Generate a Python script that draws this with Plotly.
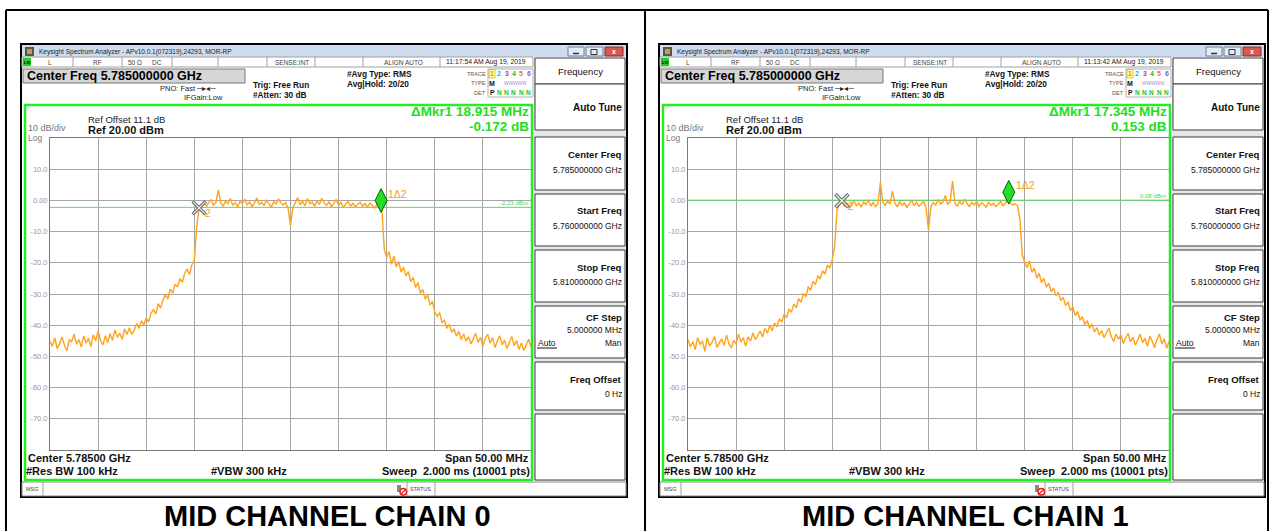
import numpy as np
import plotly.graph_objects as go

W, H = 1271, 531

# ---------------- data ----------------
start_ghz = [5.760, 5.760]
stop_ghz = [5.810, 5.810]
ref_level_dbm = 20
bottom_level_dbm = -80
y_tick_vals = [10, 0, -10, -20, -30, -40, -50, -60, -70]
y_tick_text = ["10.0", "0.00", "-10.0", "-20.0", "-30.0", "-40.0", "-50.0", "-60.0", "-70.0"]

# chain 0 trace (dBm), 0.25 MHz steps
chain0_floor = [-45.2, -46.8, -44.1, -47.5, -45.9, -43.8, -46.4, -48.2, -44.7, -45.3,
                -42.9, -46.1, -44.6, -47.0, -43.5, -45.8, -44.2, -46.9, -43.1, -45.0,
                -41.8, -44.9, -46.3, -43.4, -45.6, -42.7, -44.8, -41.5, -43.9]
chain0_rise = [-42.6, -44.5, -41.2, -43.0, -40.8, -42.9, -41.7, -39.5, -41.0, -38.6, -39.9,
               -37.8, -38.9, -36.2, -35.0, -36.4, -33.1, -34.5, -31.8, -30.2, -31.6,
               -28.4, -29.7, -26.9, -27.8, -25.1, -26.3, -23.4, -22.0, -23.8, -20.6,
               -19.2, -8.5]
chain0_top = [-2.4,
              -1.2, -0.4, -1.8, -0.9, 0.3, -1.5, -0.6, 3.4, -0.8, -1.9,
              -0.2, -1.1, 0.6, -1.6, -0.7, -2.1, -0.3, -1.0, 0.4, -1.4,
              -0.5, -2.0, -0.9, 0.8, -1.3, -0.6, -1.7, 0.2, -1.0, -2.2,
              -0.4, -1.2, 0.5, -0.8, -1.5, -0.7, -2.6, -8.1, -2.3, -0.9,
              0.9, -1.4, -0.3, -1.8, 0.6, -1.1, -0.5, -1.9, -0.2, -1.3,
              0.7, -0.8, -1.6, -0.4, -2.0, -1.0, 0.3, -1.5, -0.7, -2.3,
              -1.1, -0.4, -1.8, -0.9, -2.1, -1.2, -0.6, -1.9, -1.0, -2.2,
              -0.8, -1.6, -2.4, -1.3, -2.0,
              -2.6]
chain0_fall = [-15.8, -18.2, -16.4, -20.5, -17.9, -21.3, -19.6, -23.0, -21.4, -24.2,
               -22.8, -26.1, -24.7, -27.9, -26.3, -29.8, -28.5, -31.7, -30.2, -33.6,
               -32.4, -35.8, -37.2, -36.0, -39.1, -38.4, -41.0, -39.7, -42.3, -41.2,
               -43.5, -42.0, -44.6, -42.8, -45.1, -43.7, -46.0, -44.2, -42.6, -45.5,
               -43.9, -46.7, -44.3, -42.9, -45.8, -44.0, -47.2, -45.1, -43.4, -46.3,
               -44.8, -47.5, -45.4, -43.6, -46.6, -44.9, -47.8, -45.7, -48.1, -46.2,
               -44.5, -47.0]

# chain 1 trace (dBm)
chain1_floor = [-44.6, -46.9, -45.3, -47.8, -43.9, -46.2, -45.0, -48.4, -44.1, -46.7,
                -45.5, -43.6, -47.1, -45.8, -44.4, -46.5, -43.2, -45.9, -47.3, -44.8,
                -46.0, -42.9, -45.4, -44.0, -46.8, -43.7, -45.1, -42.5, -44.6, -43.3,
                -41.9, -43.8]
chain1_rise = [-41.0, -42.6, -40.1, -41.8, -39.3, -40.5, -37.9, -39.0, -36.4, -37.6,
               -34.8, -35.9, -33.2, -34.4, -31.5, -32.7, -29.8, -30.9, -27.6, -28.8,
               -25.9, -27.0, -24.1, -25.2, -22.5, -23.6, -20.8, -21.7, -18.9, -14.5,
               -3.0, -1.4]
chain1_top = [-0.1,
              -1.9, -0.8, -2.4, -1.1, -0.3, -1.7, -0.9, -2.2, -0.5, -1.4,
              0.2, -1.8, -0.7, -2.0, -1.0, 5.8, -0.6, -1.6, -0.2, -1.3,
              3.0, -0.9, -2.1, -0.4, -1.5, -0.8, -2.3, -1.0, 0.1, -1.7,
              -0.6, -1.9, -1.2, -0.3, -2.5, -9.4, -2.0, -0.7, -1.5, 0.3,
              -1.1, -0.5, 1.6, -1.3, -0.4, 6.2, -0.9, -1.8, -0.2, -1.4,
              0.4, -1.0, -2.1, -0.6, -1.5, -0.3, -1.9, -0.8, -1.3, -2.2,
              -0.5, -1.6, -0.9, -2.0, -1.1, -0.4, -1.7, -0.7, 0.05,
              -0.8, -1.5, -1.1, -1.8, -6.0]
chain1_fall = [-17.5, -19.8, -21.6, -19.4, -23.1, -21.7, -24.9, -23.3, -26.4, -25.0,
               -27.8, -26.5, -29.3, -28.1, -30.6, -29.4, -32.2, -31.0, -33.7, -32.5,
               -35.3, -34.1, -36.9, -35.6, -38.2, -37.4, -39.8, -38.5, -41.0, -39.6,
               -42.2, -40.8, -43.1, -41.7, -44.0, -42.4, -40.9, -43.6, -45.2, -42.8,
               -44.5, -43.1, -45.9, -44.0, -42.6, -45.3, -43.8, -46.4, -44.7, -42.9,
               -45.6, -44.2, -46.8, -43.5, -45.1, -47.2, -44.6, -42.8, -46.0, -44.3,
               -47.4, -45.2]

chain0_db = chain0_floor + chain0_rise + chain0_top + chain0_fall
chain1_db = chain1_floor + chain1_rise + chain1_top + chain1_fall

marker2_ghz = [5.7755, 5.7760]
delta_mhz = [18.915, 17.345]
delta_db = [-0.172, 0.153]
display_line_dbm = [-2.23, 0.08]
timestamps = ["11:17:54 AM Aug 19, 2019", "11:13:42 AM Aug 19, 2019"]
captions = ["MID CHANNEL CHAIN 0", "MID CHANNEL CHAIN 1"]
center_freq_text = "5.785000000 GHz"
start_freq_text = "5.760000000 GHz"
stop_freq_text = "5.810000000 GHz"

# ---------------- layout helpers ----------------
FONT = "Liberation Sans, Arial, sans-serif"
shapes, annots = [], []


def X(px):
    return px / W


def Y(py):
    return 1 - py / H


def rect(x0, y0, x1, y1, fill=None, line=None, lw=1, layer="below"):
    shapes.append(dict(type="rect", xref="paper", yref="paper",
                       x0=X(x0), x1=X(x1), y0=Y(y1), y1=Y(y0),
                       fillcolor=fill if fill else "rgba(0,0,0,0)",
                       line=dict(color=line if line else "rgba(0,0,0,0)", width=lw if line else 0),
                       layer=layer))


def seg(x0, y0, x1, y1, color, lw=1, layer="below"):
    shapes.append(dict(type="line", xref="paper", yref="paper",
                       x0=X(x0), x1=X(x1), y0=Y(y0), y1=Y(y1),
                       line=dict(color=color, width=lw), layer=layer))


def text(x, y, s, size, color="#111", bold=False, anchor="left", family=FONT):
    annots.append(dict(xref="paper", yref="paper", x=X(x), y=Y(y),
                       text=f"<b>{s}</b>" if bold else s, showarrow=False,
                       xanchor=anchor, yanchor="middle", borderpad=0,
                       font=dict(size=size, color=color, family=family)))


GL, GR, GT, GB = 50, 531, 138, 450   # grid pixel box of the left window
OFFS = [0, 638]

# outer table lines
seg(6, 10, 1268, 10, "#000", 2)
seg(6, 10, 6, 531, "#000", 2)
seg(645, 10, 645, 531, "#000", 2)
seg(1268, 10, 1268, 531, "#000", 2)


def window(k):
    ox = OFFS[k]
    rect(ox + 20, 43, ox + 628, 498, fill="#000000")
    rect(ox + 22, 45, ox + 626, 496, fill="#ffffff")
    # title bar
    rect(ox + 22, 45, ox + 626, 57, fill="#cddcee")
    rect(ox + 25, 47, ox + 34, 56, fill="#5a5440")
    rect(ox + 27, 49, ox + 32, 54, fill="#b8a060")
    text(ox + 38, 51.5, "Keysight Spectrum Analyzer - APv10.0.1(072319),24293, MOR-RP", 6.5, "#222")
    rect(ox + 568, 47, ox + 584, 56, fill="#e3ebf5", line="#6d7f99")
    rect(ox + 586, 47, ox + 603, 56, fill="#e3ebf5", line="#6d7f99")
    rect(ox + 605, 47, ox + 623, 56, fill="#d8584c", line="#8a2a22")
    seg(ox + 573, 53.5, ox + 579, 53.5, "#333", 1.5)
    rect(ox + 591, 49.5, ox + 597, 54.5, line="#333", lw=1)
    text(ox + 614, 51.5, "x", 7, "#ffffff", bold=True, anchor="center")
    # status row
    rect(ox + 22, 57, ox + 533, 67, fill="#ffffff", line="#a0a0a0")
    for sx in [73, 122, 172, 218, 267, 315, 363, 440]:
        seg(ox + sx, 57, ox + sx, 67, "#a0a0a0")
    rect(ox + 23, 58, ox + 31, 66, fill="#22cc22")
    text(ox + 27, 62, "LXI", 4, "#000", bold=True, anchor="center")
    text(ox + 50, 62, "L", 6.5, "#444", anchor="center")
    text(ox + 97, 62, "RF", 6.5, "#444", anchor="center")
    text(ox + 135, 62, "50 Ω", 6.5, "#444", anchor="center")
    text(ox + 157, 62, "DC", 6.5, "#444", anchor="center")
    text(ox + 292, 62, "SENSE:INT", 6.5, "#444", anchor="center")
    text(ox + 403, 62, "ALIGN AUTO", 6.5, "#444", anchor="center")
    text(ox + 486, 62, timestamps[k], 6.8, "#222", anchor="center")
    # center freq box
    rect(ox + 23, 69, ox + 245, 83, fill="#d6d6d6", line="#7a7a7a")
    text(ox + 26, 76, "Center Freq " + center_freq_text, 12.5, "#000", bold=True)
    text(ox + 217, 89, "PNO: Fast ─▸◂─", 7.5, "#222", anchor="right")
    text(ox + 183, 97.5, "IFGain:Low", 7.5, "#222")
    text(ox + 252, 85, "Trig: Free Run", 8.3, "#111", bold=True)
    text(ox + 252, 95, "#Atten: 30 dB", 8.3, "#111", bold=True)
    text(ox + 346, 74, "#Avg Type: RMS", 8.3, "#111", bold=True)
    text(ox + 346, 84, "Avg|Hold: 20/20", 8.3, "#111", bold=True)
    # trace info box
    text(ox + 487, 73.5, "TRACE", 5.5, "#555", anchor="right")
    text(ox + 487, 83.5, "TYPE", 5.5, "#555", anchor="right")
    text(ox + 487, 92.5, "DET", 5.5, "#555", anchor="right")
    rect(ox + 488, 69, ox + 533, 97, fill="#ffffff", line="#b0b0b0")
    rect(ox + 489, 69.5, ox + 495, 78, fill="#ffff99", line="#c8a000", lw=0.6)
    tr_cols = ["#f09000", "#00c0e0", "#e020e0", "#20c020", "#f07040", "#7060ff"]
    for j, c in enumerate(tr_cols):
        text(ox + 492 + j * 7.3, 73.7, str(j + 1), 7, c, bold=True, anchor="center")
    text(ox + 492, 83.5, "M", 7, "#111", bold=True, anchor="center")
    text(ox + 515, 83.5, "WWWWW", 4.8, "#a090d8", anchor="center")
    text(ox + 492, 92.5, "P", 7, "#111", bold=True, anchor="center")
    for j in range(5):
        text(ox + 499.3 + j * 7.3, 92.5, "N", 6.5, "#22c022", bold=True, anchor="center")
    # upper display texts
    text(ox + 87, 119, "Ref Offset 11.1 dB", 9.5, "#222")
    text(ox + 87, 129.5, "Ref 20.00 dBm", 11, "#111", bold=True)
    text(ox + 27, 128.5, "10 dB/div", 9, "#777")
    text(ox + 27, 138.5, "Log", 8.5, "#777")
    text(ox + 530, 112, f"ΔMkr1 {delta_mhz[k]:.3f} MHz", 13.5, "#22dd22", bold=True, anchor="right")
    text(ox + 530, 126.5, f"{delta_db[k]:.3f} dB", 13.5, "#22dd22", bold=True, anchor="right")
    # bottom display texts
    text(ox + 27, 458, "Center 5.78500 GHz", 11, "#111", bold=True)
    text(ox + 530, 458, "Span 50.00 MHz", 11, "#111", bold=True, anchor="right")
    text(ox + 25, 471, "#Res BW 100 kHz", 11, "#111", bold=True)
    text(ox + 249, 471, "#VBW 300 kHz", 11, "#111", bold=True, anchor="center")
    text(ox + 531, 471, "Sweep  2.000 ms (10001 pts)", 11, "#111", bold=True, anchor="right")
    # green frame
    rect(ox + 25, 105, ox + 532, 480, line="#22ee22", lw=2.5, layer="above")
    # soft key panel
    rect(ox + 534, 58, ox + 626, 481, fill="#e6e6e6")
    boxes = [(58, 84), (84, 130), (137, 190), (194, 246), (250, 302), (306, 358), (362, 410), (414, 480)]
    for (b0, b1) in boxes:
        rect(ox + 535, b0, ox + 625, b1, fill="#ffffff", line="#3a3a3a", lw=1)
    R = ox + 623
    text(ox + 580, 71, "Frequency", 9.5, "#111", anchor="center")
    text(R, 107, "Auto Tune", 10, "#111", bold=True, anchor="right")
    text(R, 155, "Center Freq", 9.5, "#111", bold=True, anchor="right")
    text(R, 170, center_freq_text, 8.5, "#111", anchor="right")
    text(R, 211, "Start Freq", 9.5, "#111", bold=True, anchor="right")
    text(R, 226, start_freq_text, 8.5, "#111", anchor="right")
    text(R, 267, "Stop Freq", 9.5, "#111", bold=True, anchor="right")
    text(R, 282, stop_freq_text, 8.5, "#111", anchor="right")
    text(R, 317.5, "CF Step", 9.5, "#111", bold=True, anchor="right")
    text(R, 330, "5.000000 MHz", 8.5, "#111", anchor="right")
    text(ox + 537, 343, "Auto", 8.5, "#111")
    seg(ox + 537, 348, ox + 557, 348, "#111", 1)
    text(R, 343, "Man", 8.5, "#111", anchor="right")
    text(R, 379, "Freq Offset", 9.5, "#111", bold=True, anchor="right")
    text(R, 394, "0 Hz", 8.5, "#111", anchor="right")
    # status bar
    rect(ox + 22, 482, ox + 626, 496, fill="#ffffff", line="#8a8a8a")
    seg(ox + 43, 482, ox + 43, 496, "#a0a0a0")
    seg(ox + 407, 482, ox + 407, 496, "#a0a0a0")
    seg(ox + 435, 482, ox + 435, 496, "#a0a0a0")
    text(ox + 25, 489, "MSG", 5.5, "#444")
    rect(ox + 397, 485, ox + 401, 492, fill="#8a8a8a")
    shapes.append(dict(type="circle", xref="paper", yref="paper",
                       x0=X(ox + 400), x1=X(ox + 406.5), y0=Y(495), y1=Y(488.5),
                       fillcolor="#ffffff", line=dict(color="#e02020", width=1.5), layer="below"))
    seg(ox + 401, 494, ox + 405.5, 489.5, "#e02020", 1.2)
    text(ox + 409, 489, "STATUS", 5.5, "#444")
    # caption
    cx = 327 if k == 0 else 965
    text(cx, 516, captions[k], 29, "#000", bold=True, anchor="center")


for k in range(2):
    window(k)

# ---------------- traces ----------------
fig = go.Figure()
db_per_px = (ref_level_dbm - bottom_level_dbm) / (GB - GT)
traces = [chain0_db, chain1_db]
for k in range(2):
    xa = "x" if k == 0 else "x2"
    ya = "y" if k == 0 else "y2"
    vals = np.array(traces[k], dtype=float)
    freq = np.linspace(start_ghz[k], stop_ghz[k], len(vals))
    # display line
    shapes.append(dict(type="line", xref=xa, yref=ya, x0=start_ghz[k], x1=stop_ghz[k],
                       y0=display_line_dbm[k], y1=display_line_dbm[k],
                       line=dict(color="#55e055", width=1), layer="between"))
    annots.append(dict(xref=f"{xa} domain", yref=ya, x=1, y=display_line_dbm[k], xanchor="right",
                       yanchor="bottom", xshift=-2, yshift=0, showarrow=False, borderpad=0,
                       text=f"{display_line_dbm[k]:.2f} dBm",
                       font=dict(size=6, color="#44dd44", family=FONT)))
    fig.add_trace(go.Scatter(x=freq, y=vals, mode="lines", xaxis=xa, yaxis=ya,
                             line=dict(color="#ffa31a", width=1.4), hoverinfo="skip"))
    m2 = marker2_ghz[k]
    m1 = m2 + delta_mhz[k] / 1000.0
    v2 = vals[int(np.argmin(np.abs(freq - m2)))]
    v1 = vals[int(np.argmin(np.abs(freq - m1)))]
    fig.add_trace(go.Scatter(x=[m2], y=[v2], mode="markers", xaxis=xa, yaxis=ya, hoverinfo="skip",
                             marker=dict(symbol="x-thin", size=13, line=dict(width=3.4, color="#6a6a6a"))))
    fig.add_trace(go.Scatter(x=[m2], y=[v2], mode="markers", xaxis=xa, yaxis=ya, hoverinfo="skip",
                             marker=dict(symbol="x-thin", size=12, line=dict(width=1.2, color="#eeeeee"))))
    fig.add_trace(go.Scatter(x=[m1], y=[v1 + 8 * db_per_px], mode="markers", xaxis=xa, yaxis=ya,
                             hoverinfo="skip",
                             marker=dict(symbol="diamond-tall", size=17, color="#22e022",
                                         line=dict(width=1, color="#0b5d0b"))))
    annots.append(dict(xref=xa, yref=ya, x=m2, y=v2, xshift=9, yshift=-6, showarrow=False,
                       text="2", font=dict(size=10, color="#f0a020", family=FONT)))
    annots.append(dict(xref=xa, yref=ya, x=m1, y=v1, xanchor="left", xshift=5, yshift=15,
                       showarrow=False, text="1Δ2", font=dict(size=10.5, color="#f0a020", family=FONT)))


def xaxis_cfg(k, dom):
    return dict(domain=dom, range=[start_ghz[k], stop_ghz[k]], tick0=start_ghz[k], dtick=0.005,
                showticklabels=False, ticks="", showgrid=True, gridcolor="#a6a6a6", gridwidth=1,
                zeroline=False, showline=True, mirror=True, linecolor="#7a7a7a", linewidth=1,
                fixedrange=True)


def yaxis_cfg(dom):
    return dict(domain=dom, range=[bottom_level_dbm, ref_level_dbm], tickvals=y_tick_vals,
                ticktext=y_tick_text, tickfont=dict(size=7.5, color="#9a9a9a", family=FONT),
                ticks="", showgrid=True, gridcolor="#a6a6a6", gridwidth=1, zeroline=False,
                showline=True, mirror=True, linecolor="#7a7a7a", linewidth=1, fixedrange=True)


ydom = [Y(GB), Y(GT)]
fig.update_layout(
    width=W, height=H, margin=dict(l=0, r=0, t=0, b=0),
    paper_bgcolor="#ffffff", plot_bgcolor="rgba(0,0,0,0)", showlegend=False,
    xaxis=dict(anchor="y", **xaxis_cfg(0, [X(GL), X(GR)])),
    yaxis=dict(anchor="x", **yaxis_cfg(ydom)),
    xaxis2=dict(anchor="y2", **xaxis_cfg(1, [X(GL + OFFS[1]), X(GR + OFFS[1])])),
    yaxis2=dict(anchor="x2", **yaxis_cfg(ydom)),
    shapes=shapes, annotations=annots,
)

fig.write_html("out.html", config={"displayModeBar": False},
               post_script="document.body.style.margin='0';document.body.style.overflow='hidden';")
